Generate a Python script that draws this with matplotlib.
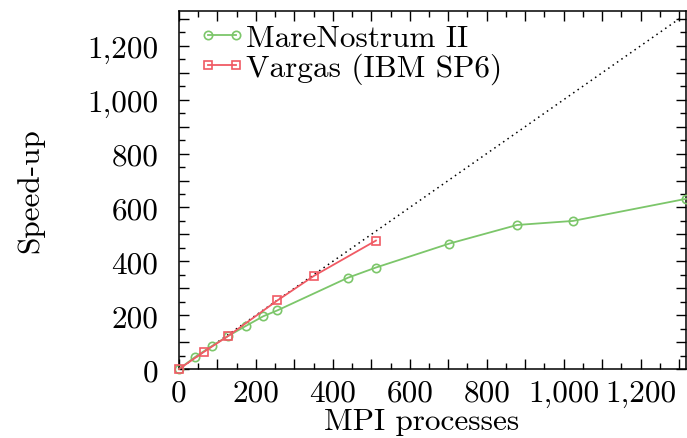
import matplotlib
matplotlib.use("Agg")
import matplotlib.pyplot as plt
from matplotlib.ticker import MultipleLocator, FuncFormatter

# MareNostrum II
mn_procs = [0, 42, 87, 128, 175, 219, 256, 439, 512, 703, 879, 1024, 1318]
mn_speedup = [0, 45, 87, 123, 161, 196, 218, 339, 377, 466, 535, 550, 632]

# Vargas (IBM SP6)
vg_procs = [0, 64, 128, 256, 352, 512]
vg_speedup = [0, 63, 123, 255, 347, 477]

ideal = [0, 1300]

plt.rcParams['font.family'] = 'serif'
plt.rcParams['font.serif'] = ['cmr10', 'DejaVu Serif']
plt.rcParams['mathtext.fontset'] = 'cm'
plt.rcParams['axes.formatter.use_mathtext'] = True
plt.rcParams['font.size'] = 22.5

fig = plt.figure(figsize=(6.87, 4.39), dpi=100)
ax = fig.add_axes([0.2605, 0.157, 0.738, 0.816])

ax.plot(ideal, ideal, color='black', linestyle=(0, (1, 2.5)), linewidth=1.1)
ax.plot(mn_procs, mn_speedup, color='#7cc66a', marker='o', markersize=6,
        markerfacecolor='none', markeredgewidth=1.2, linewidth=1.3,
        label='MareNostrum II', clip_on=False, zorder=3)
ax.plot(vg_procs, vg_speedup, color='#f05a64', marker='s', markersize=5.5,
        markerfacecolor='none', markeredgewidth=1.2, linewidth=1.3,
        label='Vargas (IBM SP6)', clip_on=False, zorder=4)

ax.set_xlim(0, 1318)
ax.set_ylim(0, 1330)


def fmt(v, pos):
    v = int(round(v))
    if v % 200 != 0:
        return ''
    return '{:,}'.format(v)


for a in (ax.xaxis, ax.yaxis):
    a.set_major_locator(MultipleLocator(100))
    a.set_minor_locator(MultipleLocator(50))
    a.set_major_formatter(FuncFormatter(fmt))

ax.tick_params(which='both', direction='in', top=True, right=True, width=1.0)
ax.tick_params(which='major', length=7)
ax.tick_params(which='minor', length=4)
ax.tick_params(axis='x', pad=7)
ax.tick_params(axis='y', pad=15)
for s in ax.spines.values():
    s.set_linewidth(1.1)

ax.set_xlabel('MPI processes')
ax.xaxis.set_label_coords(0.478, -0.106, transform=ax.transAxes)
ax.xaxis.label.set_va('top')
ax.set_ylabel('Speed-up', labelpad=31)

ax.legend(loc='upper left', frameon=False, numpoints=2, handlelength=1.5,
          handletextpad=0.0, borderaxespad=0, borderpad=0, labelspacing=0.02,
          bbox_to_anchor=(0.039, 0.963))

fig.savefig('out.png', dpi=100)
